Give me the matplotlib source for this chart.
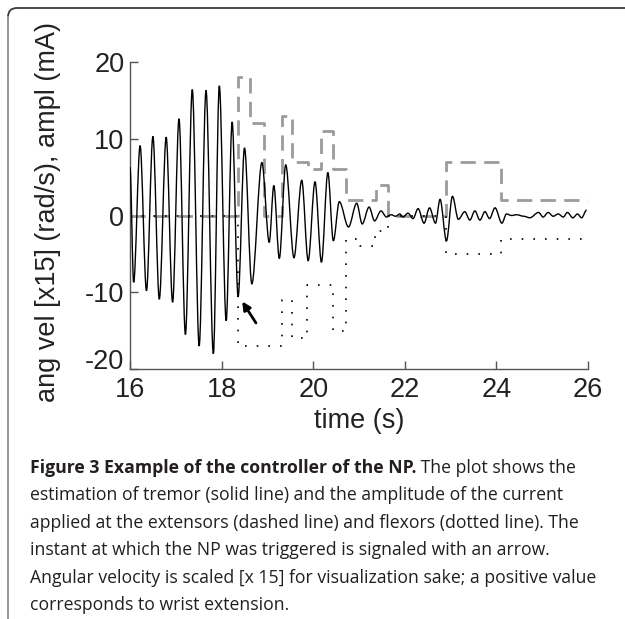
import matplotlib
matplotlib.use('Agg')
import matplotlib.pyplot as plt
from matplotlib.path import Path
from matplotlib.patches import PathPatch
from matplotlib.lines import Line2D

# tremor estimate (solid line), read peak by peak off the figure
tremor_t = [16.00, 16.08, 16.22, 16.36, 16.50, 16.64, 16.79, 16.93, 17.07, 17.21,
            17.36, 17.51, 17.66, 17.82, 17.95, 18.10, 18.23, 18.36, 18.50, 18.66,
            18.88, 19.04, 19.14, 19.26, 19.40, 19.58, 19.75, 19.89, 20.04, 20.18,
            20.32, 20.44, 20.57, 20.77, 20.95, 21.07, 21.22, 21.34, 21.48, 21.60,
            21.70, 21.80, 21.89, 21.96, 22.07, 22.18, 22.29, 22.42, 22.54, 22.67,
            22.77, 22.91, 23.04, 23.17, 23.31, 23.42, 23.53, 23.64, 23.75, 23.85,
            23.97, 24.12, 24.22, 24.33, 24.44, 24.60, 24.73, 24.92, 25.02, 25.13,
            25.24, 25.35, 25.46, 25.55, 25.67, 25.77, 25.86, 25.97]
tremor_v = [6.3, -8.7, 9.1, -9.8, 10.3, -10.9, 10.2, -11.3, 12.6, -15.5,
            16.4, -17.0, 16.3, -18.0, 16.9, -13.7, 12.2, -10.6, 8.8, -8.9,
            6.9, -3.5, 3.9, -5.6, 6.6, -5.5, 4.6, -5.9, 4.4, -6.1,
            5.6, -3.3, 1.8, -1.5, 1.6, -1.1, 1.1, -0.7, 0.6, -0.2,
            0.1, -0.1, 0.2, -0.2, 0.3, -0.4, 0.9, -1.0, 1.0, -1.0,
            2.1, -3.3, 2.5, -0.5, 0.5, -0.6, 0.6, -0.6, 0.5, -0.4,
            1.0, -1.0, 0.2, 0.0, 0.1, -0.1, -0.3, 0.4, -0.2, 0.4,
            -0.1, 0.2, -0.2, 0.4, -0.3, 0.2, -0.3, 0.7]

# current amplitude (mA), step changes: extensors (dashed) and flexors (dotted)
ext_t = [16.0, 18.36, 18.62, 18.93, 19.31, 19.53, 19.89, 20.16, 20.44, 20.72, 21.38, 21.64, 22.91, 24.11, 26.0]
ext_v = [0, 18, 12, 0, 13, 7, 6, 11, 6, 2, 4, 0, 7, 2, 2]
flex_t = [16.0, 18.36, 19.31, 19.53, 19.86, 20.44, 20.72, 21.02, 21.36, 21.64, 22.91, 24.11, 26.0]
flex_v = [0, -17, -11, -16, -9, -15, -3, -4, -2, 0, -5, -3, -3]

# arrow at the instant the NP was triggered
trigger_tip = (18.45, -11.2)
trigger_tail = (18.75, -14.0)

xticks = [16, 18, 20, 22, 24, 26]
yticks = [-20, -10, 0, 10, 20]

caption_bold = 'Figure 3 Example of the controller of the NP.'
caption_lines = [' The plot shows the',
                 'estimation of tremor (solid line) and the amplitude of the current',
                 'applied at the extensors (dashed line) and flexors (dotted line). The',
                 'instant at which the NP was triggered is signaled with an arrow.',
                 'Angular velocity is scaled [x 15] for visualization sake; a positive value',
                 'corresponds to wrist extension.']


def smooth_path(xs, ys):
    # cubic segments with flat tangents at each read peak/trough
    verts = [(xs[0], ys[0])]
    codes = [Path.MOVETO]
    for i in range(1, len(xs)):
        d = (xs[i] - xs[i - 1]) / 3.0
        verts += [(xs[i - 1] + d, ys[i - 1]), (xs[i] - d, ys[i]), (xs[i], ys[i])]
        codes += [Path.CURVE4] * 3
    return Path(verts, codes)


W, H = 625, 619
fig = plt.figure(figsize=(W / 100, H / 100), dpi=100)
ax = fig.add_axes([130 / W, 1 - 369 / H, 458 / W, 307 / H])

axis_font = ['Liberation Sans', 'DejaVu Sans']
ax.plot(ext_t, ext_v, drawstyle='steps-post', color='#9b9b9b', lw=2.0,
        dashes=(5.5, 3), zorder=2)
ax.plot(flex_t, flex_v, drawstyle='steps-post', color='k', lw=1.2,
        dashes=(1, 6), zorder=2.5)
ax.add_patch(PathPatch(smooth_path(tremor_t, tremor_v), fill=False,
                       lw=1.0, edgecolor='k', zorder=3))
ax.annotate('', xy=trigger_tip, xytext=trigger_tail,
            arrowprops=dict(arrowstyle='-|>', color='k', lw=2.0, mutation_scale=12,
                            shrinkA=0, shrinkB=0), zorder=4)

ax.set_xlim(16, 26)
ax.set_ylim(-20, 20)
ax.set_xticks(xticks)
ax.set_yticks(yticks)
ax.set_xticklabels([str(v) for v in xticks], family=axis_font)
ax.set_yticklabels([str(v) for v in yticks], family=axis_font)
for s in ['top', 'right']:
    ax.spines[s].set_visible(False)
for s in ['left', 'bottom']:
    ax.spines[s].set_color('#555555')
    ax.spines[s].set_linewidth(1.0)
ax.tick_params(direction='in', length=6, width=1.0, color='#555555',
               labelsize=19.5, labelcolor='#222222', pad=4)
ax.tick_params(axis='x', pad=6)
# lowest y label sits on the x axis line, as in the original
ax.get_yticklabels()[0].set_verticalalignment('baseline')
ax.set_xlabel('time (s)', fontsize=19.5, family=axis_font, color='#222222', labelpad=3)
ax.set_ylabel('ang vel [x15] (rad/s), ampl (mA)', fontsize=19.5, family=axis_font,
              color='#222222')
ax.yaxis.set_label_coords(-0.15, 0.51)
ax.patch.set_alpha(0)

# figure frame: rounded corner at top left
fx = lambda x: x / W
fy = lambda y: 1 - y / H
fig.add_artist(Line2D([fx(8), fx(8)], [fy(H), fy(17)], transform=fig.transFigure,
                      color='#8c8c8c', lw=1.3))
corner = Path([(fx(8), fy(17)), (fx(8), fy(8)), (fx(17), fy(8)), (fx(W), fy(8))],
              [Path.MOVETO, Path.CURVE3, Path.CURVE3, Path.LINETO])
fig.add_artist(PathPatch(corner, transform=fig.transFigure, fill=False,
                         edgecolor='#3a3a3a', lw=1.3))

# caption
cap_font = ['Open Sans', 'DejaVu Sans']
cap_size = 12.7
cap_x, cap_y0, cap_dy = 30, 468, 27.4
t_bold = fig.text(fx(cap_x), fy(cap_y0), caption_bold, fontsize=cap_size, family=cap_font,
                  weight='bold', color='#231f20', va='center', ha='left')
renderer = fig.canvas.get_renderer()
bb = t_bold.get_window_extent(renderer)
fig.text(bb.x1 / W, fy(cap_y0), caption_lines[0], fontsize=cap_size, family=cap_font,
         color='#231f20', va='center', ha='left')
for i, line in enumerate(caption_lines[1:], start=1):
    fig.text(fx(cap_x), fy(cap_y0 + i * cap_dy), line, fontsize=cap_size, family=cap_font,
             color='#231f20', va='center', ha='left')

fig.savefig('out.png', dpi=100)
